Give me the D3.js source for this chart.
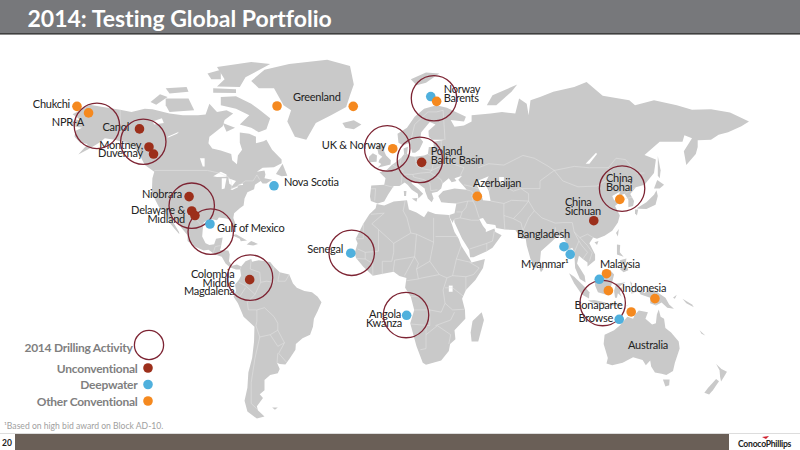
<!DOCTYPE html>
<html>
<head>
<meta charset="utf-8">
<script src="https://d3js.org/d3.v7.min.js"></script>
<style>
  html, body { margin: 0; padding: 0; background: #fff; }
  svg { display: block; }
  text { font-family: Lato, "Open Sans", sans-serif; font-variant-ligatures: none; }
  .label { font-size: 11px; letter-spacing: -0.25px; fill: #222; }
  .legend { font-size: 12px; letter-spacing: -0.25px; font-weight: 700; fill: #7f7f7f; }
</style>
</head>
<body>
<div id="chart"></div>
<script>
// Drilling sites
var siteNames = ["Chukchi", "NPR-A", "Canol", "Montney", "Duvernay", "Niobrara", "Delaware", "Midland", "Gulf of Mexico",
  "Nova Scotia", "Greenland W", "Greenland E", "UK & Norway", "Norway", "Barents", "Poland", "Azerbaijan", "Bohai", "Sichuan",
  "Bangladesh", "Myanmar", "Malaysia O", "Malaysia D", "Kalimantan", "Indonesia", "Bonaparte", "Browse", "Senegal", "Angola", "Colombia"];
var siteLons = [-163.7, -157.6, -130.8, -125.8, -123.4, -104.7, -103.3, -101.6, -93.7,
  -60, -58.4, -18.3, 2.5, 22.5, 25.6, 17.7, 47, 122, 108.3,
  92.6, 95.9, 115, 111.2, 116, 140.5, 128, 121.7, -19.6, 9.8, -72.8];
var siteLats = [70.7, 68.7, 63.6, 57.5, 55, 38.8, 32.9, 31, 27.4,
  43.1, 70.8, 70.7, 56.9, 73.6, 72.2, 52, 38.9, 37.7, 28.8,
  17.5, 14.1, 5.4, 2.85, -2.3, -5.9, -11.9, -15.2, 14.6, -13.4, 2.7];
var siteTypes = ["o", "o", "u", "u", "u", "u", "u", "u", "d",
  "d", "o", "o", "o", "d", "o", "u", "o", "o", "u",
  "d", "d", "o", "d", "o", "o", "o", "d", "d", "d", "u"];

// 2014 drilling activity rings
var ringLons = [-153.2, -128.8, -103.3, -93.3, -72.6, -19.1, 9.5, 113, -0.4, 16.8, 24.2, 123.2];
var ringLats = [64.6, 59.3, 35.1, 24.1, 3.6, 14.8, -13.3, -7.9, 57, 52.9, 73.1, 42];

var legendNames = ["Unconventional", "Deepwater", "Other Conventional"];
var legendTypes = ["u", "d", "o"];

// Land, lon/lat outlines
var northAmerica = [[-168,65.6],[-164,66.6],[-162,66.2],[-163,67],[-166,68.3],[-163,69.2],[-157,71.2],[-150,70.5],[-141,69.7],[-135,69],[-128,70],[-124,69.8],[-115,68.5],[-108,68],[-100,68],[-96,68.2],[-94,71.5],[-90,69],[-85,69.5],[-81.5,68.5],[-86,66.5],[-87,64.5],[-94,61],[-94.5,58.8],[-92.5,57],[-88,56.3],[-82.5,55],[-82,52.8],[-79.5,51.3],[-79,54.5],[-76.8,56.5],[-78,59],[-78,62.4],[-73,62],[-69.5,61],[-69.5,58.8],[-65.5,59.5],[-64,60],[-61,56.5],[-56,53],[-56,51.7],[-60,50.2],[-66,50],[-69,48.5],[-65,49],[-64.5,47.5],[-65,46],[-61,45.5],[-64,44],[-66,44],[-67,45],[-70,43.5],[-70.5,41.7],[-74,40.5],[-75.5,38],[-76,35.2],[-78,34],[-81,32],[-81.4,30],[-80,26.8],[-80.5,25.2],[-82,27],[-83,29],[-85,29.7],[-89,30.2],[-90,29],[-94,29.6],[-97,28],[-97.5,25],[-97.8,22],[-96,19],[-94,18.2],[-91.5,18.6],[-90.5,21],[-87,21.5],[-88,17],[-88.5,15.9],[-84,15.8],[-83.3,14],[-83.7,11],[-82,9],[-79.5,9.5],[-77.3,8.6],[-77.8,7.3],[-80,7.3],[-83,8.2],[-85.5,10],[-87.5,13],[-91,14],[-94.5,16.2],[-97,15.8],[-101.5,17.5],[-105.5,20],[-105.5,22.5],[-109,26],[-112.5,30],[-114.7,31.7],[-113,28],[-110,24],[-109.8,23],[-112,25],[-115,28],[-117,32.5],[-120.5,34.5],[-122.5,37.5],[-124.3,40.5],[-124,46],[-123,48.5],[-128,51],[-130.5,54.5],[-133.5,57.5],[-138,59],[-144,60],[-149,60.5],[-152,59],[-157,57],[-163,54.8],[-158,58.5],[-162,59],[-165,61],[-164.5,63],[-161,64],[-166,64.5]];
var southAmerica = [[-77.3,8.6],[-75,11],[-72,12],[-71.5,10.8],[-68,11.5],[-62,10.7],[-60,8.5],[-57,6],[-52,5],[-50,1],[-48,-1],[-44,-2.5],[-40,-3],[-37,-5],[-35,-7.5],[-37,-11.5],[-39,-15],[-39.5,-18.5],[-41,-22],[-45,-23.5],[-48.5,-26],[-48.7,-28.5],[-52,-32.5],[-54,-34.7],[-57,-34.5],[-58.4,-34],[-57,-36.5],[-58,-38.3],[-62,-39],[-65,-41],[-65,-45],[-67.5,-46.5],[-65.8,-48],[-69,-51],[-68.5,-52.5],[-65,-54.8],[-69,-55.5],[-74,-53],[-75.5,-49],[-74,-44],[-73.5,-38],[-71.5,-32],[-70.5,-25],[-70.3,-18.5],[-76,-14],[-79,-8],[-81.3,-5],[-80,-2.5],[-80.5,0.5],[-78.5,2.5],[-77.3,4.5],[-77.8,7.3]];
var africa = [[-6,35.8],[-2,35.2],[3,36.8],[10,37.3],[11,33.5],[15,32.3],[19,30.3],[21,32.8],[25,31.6],[32,31.2],[32.5,30],[35,24],[37.2,21],[38.5,18],[43,12],[44,10.5],[51,12],[50,8],[46,2.5],[41,-2],[39,-6],[40.5,-11],[40.7,-15],[35,-20],[35.5,-24],[32.7,-26],[32,-29],[28,-33],[20,-34.8],[18.3,-34],[15,-27],[11.7,-17],[13.8,-11],[12,-5],[9,-1],[9.7,3.5],[6,4.3],[3,6.3],[-4,5.2],[-8,4.5],[-13,8.5],[-16.8,12.5],[-17.5,14.7],[-16,19],[-17,21],[-13,27.5],[-9.8,31.5],[-6.5,34]];
var eurasia = [[-9,37],[-9.5,38.8],[-8.8,43.2],[-2,43.5],[-1.3,46],[-4.5,48.3],[-1.5,48.7],[2,51],[4,52],[7,53.7],[8.5,55],[8.2,57],[10.5,57.6],[10,55],[12,54.2],[14,54],[19,54.5],[21,55],[21.5,57.5],[24,57.5],[24,59.3],[30,60],[23,60],[21.5,61],[21.3,63],[25,65],[22,65.8],[17.5,62.5],[17,60.5],[18.5,59.3],[16.5,56.5],[14.3,55.5],[12.8,55.5],[11.2,59],[8,58],[5.5,59],[5,62],[10,64],[14,67.5],[19,70],[25.5,71],[31,70.3],[41,67.5],[40,66],[33,66.5],[35,64.3],[40,64.7],[44,66],[44,68],[54,68.5],[60,69],[67,68.5],[69,73],[73,71.5],[74,68],[75,72.5],[80,73.5],[87,75],[98,76.3],[104.5,77.7],[113,73.8],[127,72.5],[130,71],[140,72.5],[152,71],[160,69.7],[170,69.8],[180,68.8],[190,66],[186,64.5],[179,62.5],[174,61.7],[170,60],[163,59.8],[163,57.5],[162,55],[157,51],[155.7,56],[160,60.5],[156,61.5],[155,59.3],[143,59.3],[135,54.7],[141,53],[140,48],[135,43.5],[130.5,42.5],[127.5,39.8],[129.5,37],[129,35],[126.5,34.5],[126.5,37.5],[124.5,40],[121.5,39],[122,40.7],[118,39],[119,37.3],[122.5,37],[119.5,35],[122,31],[121,28],[118,24.5],[114,22.3],[110,21],[108,21.5],[106,19],[109,14],[109,11.5],[105,8.7],[105,10.5],[102.5,12],[100.5,13.5],[99.5,10],[103.5,4.5],[104,1.4],[101,3],[98.5,8],[98,15],[97,17],[94.5,16],[94,19],[91.5,22.5],[88.5,21.7],[86.5,20],[80.5,15.5],[80,11],[77.5,8],[75,12],[73,18],[72.5,21],[70,21],[69,22.5],[67,24.8],[61.5,25],[57,25.7],[56.5,27],[52,27.5],[50,30],[48,29.5],[50,26.5],[51.5,25],[51.5,24],[56,25.5],[56.5,24],[59.8,22.5],[55,17],[52,15.5],[45,12.8],[43.2,12.8],[42.7,16],[39,21],[35,28],[34.8,29.5],[34,27.8],[33,29.5],[32.5,30],[32.3,31.2],[35,32],[36,36],[32,36.2],[28,36.5],[26.5,39],[29,41],[35,42],[41.5,41.5],[38,44.5],[37,45.5],[39,47],[35,46],[36,45],[33.5,44.5],[32,46],[28.7,44],[28,42],[26,40.7],[23,40.3],[24,38],[23,36.5],[21,38],[19.5,41],[19.3,42],[14,45],[12.3,45.3],[12.5,44],[16,41.8],[18.5,40],[16,38],[15.7,40],[12.5,41.5],[10.3,43.5],[8.8,44.4],[6,43],[3,43],[0,39.5],[-2,36.8],[-5.5,36]];
var greenland = [[-72,78],[-65,81],[-52,82.5],[-32,83.6],[-20,82],[-18,77],[-20,74],[-22,70.5],[-30,68],[-38,65.5],[-43,60],[-49,61],[-53,66],[-51,69.5],[-55,71],[-60,76],[-68,76]];
var australia = [[114,-22],[113.5,-26],[115.7,-32],[115,-34.3],[118,-35],[123.5,-34],[129,-31.7],[134,-32.8],[135.7,-35],[138,-33],[138.5,-35.5],[140.5,-38],[144,-38.5],[146.5,-39],[150,-37.3],[151,-34],[153.5,-28],[153,-25],[149,-21],[146,-19],[145.3,-15],[143.5,-14],[142.5,-10.8],[141.5,-13],[141,-17],[139,-17.5],[135.5,-15],[136.8,-12],[132,-11.3],[130,-13],[129,-15],[126,-14],[122,-18],[119,-20]];
var islands = [
  [[-80,73.7],[-72,71.5],[-68,69.8],[-62,67],[-64,63.5],[-68,62.5],[-72,64],[-78,65],[-73,68],[-80,70],[-88,71],[-88,73.5]],
  [[-117,73],[-105,73],[-102,69.5],[-115,69],[-117,71]],
  [[-125,72],[-120,74.3],[-116,73.5],[-122,71.2]],
  [[-90,76.5],[-78,76.3],[-75,79],[-62,82.5],[-72,83],[-90,81.7],[-86,78.5]],
  [[-92,76],[-80,75.7],[-80,74.6],[-92,74.7]],
  [[-117,76],[-106,76.3],[-105,75],[-115,74.5]],
  [[-95,80],[-88,81],[-88,78.5],[-93,78.5]],
  [[-87,65.5],[-80.5,64],[-85,62.7]],
  [[-59,47.7],[-55.5,51.5],[-53,47],[-56,46.8]],
  [[-85,22],[-80,23],[-74.2,20.2],[-77.5,19.9],[-78,21],[-82,22.5]],
  [[-74.4,18.5],[-72,20],[-68.4,18.7],[-71,18]],
  [[-24,65.5],[-18,66.4],[-14,65],[-18,63.5],[-22.5,64]],
  [[12,78.5],[20,80.3],[27,80],[20,77.5],[15,76.8]],
  [[-5.5,50],[1.3,51.2],[1.5,52.8],[-1,54.5],[-2,56],[-2,57.6],[-3.5,58.6],[-6,58],[-5,55],[-3,54],[-4.5,53],[-5,52],[-3.5,51.4]],
  [[-10,52],[-6,52.2],[-5.8,54.5],[-8,55.3],[-10,54]],
  [[52,71],[55,74],[68,77],[65,75],[57,71]],
  [[12.5,38],[15.5,38.2],[15,36.7]],
  [[8.3,41],[9.7,41],[9.5,39],[8.5,39]],
  [[142,54.3],[143.5,49],[143,46],[142,47],[142,51]],
  [[140,42],[141.7,45.4],[145.3,43.5],[143,42]],
  [[130.9,34],[136,36.5],[140,39.5],[141.3,41.3],[142,39],[140.8,35.5],[136,33.7],[132,33.8]],
  [[130,33.5],[131.7,33.5],[131,31],[130,32]],
  [[121.5,25.2],[121,22],[120,23.5]],
  [[108.7,19.5],[110.8,20],[110,18.2]],
  [[120.5,18.5],[122.2,18.3],[122,15],[124,13],[120.5,14]],
  [[122,7.5],[125.5,9.7],[126.5,7],[124,6]],
  [[122,11.5],[125.5,12.2],[125,10],[123,9.5]],
  [[80,9.7],[81.8,7.5],[80.5,6],[79.8,7.5]],
  [[95.3,5.6],[98,4],[104,-1],[106,-3],[105.8,-5.8],[102,-4],[98,1]],
  [[105.2,-6.8],[108.5,-6.5],[114.5,-7.6],[114.5,-8.7],[108,-7.9]],
  [[109,1.5],[111.5,2.5],[114,4.5],[117,7],[119,5],[117.8,1],[116.5,-3],[114.5,-4],[110.5,-3],[109,0]],
  [[119.5,-5.5],[119,-2.5],[120,0.8],[125,1.5],[121,-0.9],[123.5,-1],[122,-3],[123,-5],[121,-3.5],[120.5,-5.5]],
  [[131,-0.8],[135,-3.3],[138,-1.7],[141,-2.6],[146,-5.5],[148,-8.5],[150.5,-10.5],[147,-10],[144,-7.7],[141,-9],[138,-8],[138,-5.5],[133,-4],[132,-2.7]],
  [[116,-8.3],[119,-8.3],[123,-8.3],[123,-8.9],[116,-9]],
  [[124,-10],[127,-8.4],[125,-9.2]],
  [[128,-3],[130.5,-3.2],[128,-3.6]],
  [[127.5,2],[128.5,1],[128,-0.8]],
  [[49.3,-12],[50.5,-15.5],[47.5,-25],[44,-25],[43.5,-21],[44.5,-16]],
  [[144.7,-40.8],[148.2,-40.8],[148,-43],[146,-43.5]],
  [[172.7,-34.5],[175.5,-36.5],[178.4,-37.7],[177,-39.5],[175.3,-41.6],[174.8,-39.8],[174.5,-37]],
  [[172.7,-40.6],[174.2,-41.5],[171,-45],[169,-46.6],[166.5,-46],[168.5,-44]],
  [[164,-20],[167,-22.3],[165,-21.6]],
  [[-61,-51.5],[-58,-51.5],[-59.5,-52.3]],
  [[155,-6],[160,-8.5],[161,-9.8],[157,-8]],
  [[150,-5.5],[152,-4.2],[151,-6]]
];
// lakes and inland seas, same outlines in white
var lakes = [
  [[47,45],[53,46.8],[51,44],[53,41],[54,37],[50,37.3],[49,40],[47,43]],
  [[-92,46.8],[-88,48.5],[-85,47.5],[-85,46.6],[-90,46.5]],
  [[-87.5,46],[-85,46],[-86,42],[-87.5,41.7]],
  [[-84,46],[-80,45],[-82,43],[-83.5,44]],
  [[-83,41.7],[-79,42.9],[-79,42.5],[-82,41.4]],
  [[-79.5,43.3],[-76.3,44],[-76.3,43.4]],
  [[-124,66],[-119,67],[-118,65.5],[-123,65]],
  [[-116,61],[-110,62.7],[-111,62],[-116,60.7]],
  [[-99,53.5],[-96.5,53.5],[-96.5,50.5],[-97.5,50.5]],
  [[104,51.5],[109.5,55.5],[110,55],[106,51.5]],
  [[32,0],[34,0],[34,-2.8],[32,-2.8]],
  [[58.5,46.5],[61,46.5],[61,44],[58.5,44]]
];
// Country borders
var borders = [
  [[-123,49],[-95,49],[-89,48],[-84,46.5],[-82.5,45],[-82.5,42],[-79,43],[-75,45],[-71,45],[-69,47.3],[-67.5,45.5]],
  [[-141,69.7],[-141,60],[-137,59],[-130,55]],
  [[-117,32.5],[-108,31.5],[-106,31.7],[-101,29.5],[-97.3,25.9]],
  [[-92,14.5],[-91,17.5],[-89,17.9],[-88,17.9]],
  [[-72,12],[-72.5,7.5],[-67.5,6],[-67,1.5],[-70,-4],[-74,-7.5],[-73.5,-11],[-69,-11],[-69,-16],[-69.5,-18]],
  [[-60,8.5],[-61,5],[-60,1.5],[-64,2],[-67,1.5]],
  [[-57,6],[-58,2],[-54,2],[-52,5]],
  [[-78.5,1.5],[-75,0],[-70,-4]],
  [[-80,-3.5],[-78,-5],[-75,-1]],
  [[-69,-11],[-65,-10],[-60,-14],[-58,-17],[-58,-20],[-54.5,-25.5],[-57.5,-30],[-53.5,-33.7]],
  [[-69.5,-18],[-67.5,-23],[-62,-22],[-58,-20]],
  [[-67.5,-23],[-70,-32],[-72,-42],[-72,-50],[-69,-52]],
  [[-62,-22],[-58,-27],[-54.5,-25.5]],
  [[-58,-30],[-58.4,-34]],
  [[-9,41.9],[-6.5,42],[-7,37.2]],
  [[-1.8,43.4],[3,42.5]],
  [[2.5,51],[6,49.5],[8,49],[7.5,47.6],[7,44]],
  [[7,53.7],[6,50.5]],
  [[9,55],[9,54.6]],
  [[14.2,54],[15,51],[18,49.7],[23,49],[24,52],[23.5,54],[21,55]],
  [[7.5,47.6],[13,47.5],[17,48],[22,48.3],[23,49]],
  [[13,47.5],[13.5,46.5],[16,46],[19,45.5],[22,44.2],[22.5,41.2],[26,41.5]],
  [[22,48.3],[28,45.5],[28.7,44]],
  [[23,49],[32,52],[40,50],[38,47]],
  [[28,56],[23.5,54],[32,52]],
  [[28,56],[28,60]],
  [[30,60],[29.5,65],[29,69.5],[25.5,69],[21,69]],
  [[21,69],[14,65],[12.5,61],[11.5,59]],
  [[40,43.5],[44,42.8],[48,41.8]],
  [[41.5,41.5],[44,41],[45,39.5],[48.8,38.5]],
  [[44,39.5],[44.8,37],[46,35],[48,30]],
  [[36,36],[42,37],[44.8,37]],
  [[36,32.5],[39,32.5],[41,34.3],[42,37]],
  [[35,29.5],[38,30],[39,32.5]],
  [[38,30],[44,29],[48,29]],
  [[43,16.5],[52,19],[55,20],[56,24.5]],
  [[52,15.5],[52,19]],
  [[53,41],[56,45],[61,43],[66,41],[70,42],[74,40],[74,37]],
  [[54,37],[61,36],[65,37.3],[74,37]],
  [[61,36],[61,31],[61.5,25]],
  [[61,31],[66,29.7],[70,33],[74,37]],
  [[66,29.7],[70,28],[71,24.5],[69,22.5]],
  [[74,37],[77,33],[74,30],[71,24.5]],
  [[47.5,50],[53,51.5],[61,51],[71,54.5],[77,53.5],[84,50.7],[87.5,49]],
  [[87.5,49],[98,50.5],[106,50],[116,50],[120,53.5],[125,53],[131,48],[135,48]],
  [[70,42],[80,42],[80,45],[87.5,49]],
  [[87.5,49],[92,45],[100,42.7],[110,43],[119,47],[116,50]],
  [[77,33],[81,30],[88,27.8],[92,28],[97,28]],
  [[97,28],[98,24],[101,21.5],[105,23],[108,21.5]],
  [[88,26],[88.5,21.7]],
  [[92,25],[92.5,21]],
  [[98,24],[100.5,20],[98,15]],
  [[101,21.5],[105,18],[107.5,15],[106,11]],
  [[100.5,20],[102,18],[105,15],[102.5,12]],
  [[125,40.2],[130.5,42.5]],
  [[124.5,38],[128.5,38.5]],
  [[-17,21],[-13,21],[-13,27.5]],
  [[-8.5,27.5],[-5,25],[3,19],[12,23.5],[15,23],[24,19.5],[24,30]],
  [[-9,31.5],[-2,32],[-8.5,27.5]],
  [[9,37],[8,33],[10,30],[12,23.5]],
  [[-16,16.5],[-12,15],[-5,15.5],[-5,25]],
  [[-12,15],[-12,12],[-8,10],[-8,4.5]],
  [[-16.7,12.3],[-12,12]],
  [[-3,5],[-3,11],[2,11],[3,15],[3,19]],
  [[2.7,6.3],[3.5,11.5],[14,13],[15,23]],
  [[8.7,4.5],[14,13]],
  [[14,13],[16,10],[15,7.5],[16,3],[9.7,2.2]],
  [[15,7.5],[22,11],[24,19.5]],
  [[22,11],[27,5],[31,3.5],[34,4.5],[36,12],[38.5,18]],
  [[25,22],[37,22]],
  [[27,5],[18,3.5],[16,3]],
  [[12,-5],[17,-5],[22,-11],[28,-12],[30,-8],[29,-2],[31,3.5]],
  [[13.8,-11],[22,-11],[22,-18],[12,-17.3]],
  [[20,-18],[20,-28],[17,-28.5]],
  [[30,-1],[34,-1],[39.5,-4.7]],
  [[34,4.5],[41,4],[41,-2]],
  [[36,12],[41,11],[44,10.5]],
  [[41,4],[45,5],[48,8],[43,10.5]],
  [[30,-8],[34,-11],[40,-10.7]],
  [[25,-18],[33,-15.5],[35,-12]],
  [[20,-22],[26,-18],[33,-22],[32,-26]],
  [[141,-2.6],[141,-9]],
  [[115,2],[117.5,4.2]]
];

var typeColors = { u: "#9c2f1b", d: "#4fb0dd", o: "#f5891f" };
var ringColor = "#7d2433";
var landColor = "#c9c9c9";

var svgWidth = 800;
var svgHeight = 450;

var svg = d3.select("#chart")
  .append("svg")
  .attr("width", svgWidth)
  .attr("height", svgHeight);

// Map is a Gall style cylinder: x is linear in lon, y is linear in tan(lat / 2)
var xLon = d3.scaleLinear().domain([-180, 180]).range([388 - 342, 388 + 342]);
var yTan = d3.scaleLinear().domain([-1, 1]).range([285.6 + 252.7, 285.6 - 252.7]);
var px = p => xLon(p[0]);
var py = p => yTan(Math.tan(p[1] * Math.PI / 360));

var outline = d3.line().x(px).y(py).curve(d3.curveLinearClosed);
var openLine = d3.line().x(px).y(py);

// Header band
svg.append("rect").attr("width", svgWidth).attr("height", 33).attr("fill", "#77787b");
svg.append("rect").attr("y", 33).attr("width", svgWidth).attr("height", 1.6).attr("fill", "#3f3f3f");
svg.append("text")
  .attr("x", 27.5)
  .attr("y", 27)
  .attr("font-size", 23)
  .attr("font-weight", 700)
  .attr("fill", "#fff")
  .text("2014: Testing Global Portfolio");

// Land
var land = [northAmerica, southAmerica, africa, eurasia, greenland, australia].concat(islands);
var mapGroup = svg.append("g");
mapGroup.selectAll("path.land")
  .data(land)
  .enter()
  .append("path")
  .attr("class", "land")
  .attr("d", outline)
  .attr("fill", landColor);

mapGroup.selectAll("path.lake")
  .data(lakes)
  .enter()
  .append("path")
  .attr("class", "lake")
  .attr("d", outline)
  .attr("fill", "#fff");

mapGroup.selectAll("path.border")
  .data(borders)
  .enter()
  .append("path")
  .attr("class", "border")
  .attr("d", openLine)
  .attr("fill", "none")
  .attr("stroke", "#e6e6e6")
  .attr("stroke-width", 0.5);

// Site labels
function label(txt, x, y, anchor) {
  return svg.append("text")
    .attr("class", "label")
    .attr("x", x)
    .attr("y", y)
    .attr("text-anchor", anchor || "start")
    .text(txt);
}
label("Chukchi", 70, 108, "end");
label("NPR-A", 84, 126, "end");
label("Canol", 129, 131, "end");
label("Montney,", 143, 148.5, "end");
label("Duvernay", 143, 157, "end");
label("Niobrara", 182, 198, "end");
label("Delaware &", 185, 214, "end");
label("Midland", 185, 222.5, "end");
label("Gulf of Mexico", 217, 232);
label("Nova Scotia", 284, 186);
label("Greenland", 293, 101);
label("UK & Norway", 386, 149, "end");
label("Norway", 443.7, 93);
label("Barents", 443.7, 102);
label("Poland", 430.7, 155);
label("Baltic Basin", 430.7, 164);
label("Azerbaijan", 473, 187);
label("China", 606, 182);
label("Bohai", 606, 191);
label("China", 565, 206);
label("Sichuan", 565, 214.5);
label("Bangladesh", 517, 238);
label("Myanmar\u00B9", 568.5, 268, "end");
label("Malaysia", 600, 268);
label("Indonesia", 622, 292);
label("Bonaparte", 622.5, 309, "end");
label("Browse", 613, 322, "end");
label("Australia", 628, 349);
label("Senegal", 343, 253, "end");
label("Angola", 369, 318);
label("Kwanza", 366, 327);
label("Colombia", 234.5, 278, "end");
label("Middle", 234.5, 286.5, "end");
label("Magdalena", 234.5, 295, "end");

// Activity rings
svg.selectAll("circle.ring")
  .data(d3.zip(ringLons, ringLats))
  .enter()
  .append("circle")
  .attr("class", "ring")
  .attr("cx", px)
  .attr("cy", py)
  .attr("r", 22.7)
  .attr("fill", "none")
  .attr("stroke", ringColor)
  .attr("stroke-width", 1.3);

// Site dots
svg.selectAll("circle.site")
  .data(d3.zip(siteLons, siteLats, siteTypes, siteNames))
  .enter()
  .append("circle")
  .attr("class", "site")
  .attr("cx", px)
  .attr("cy", py)
  .attr("r", 4.8)
  .attr("fill", d => typeColors[d[2]]);

// Legend
svg.append("text").attr("class", "legend").attr("x", 132.5).attr("y", 352).attr("text-anchor", "end").text("2014 Drilling Activity");
svg.append("circle").attr("cx", 149).attr("cy", 345).attr("r", 14.6).attr("fill", "none").attr("stroke", ringColor).attr("stroke-width", 1.3);
var legendY = d3.scalePoint().domain(legendNames).range([368, 401]);
svg.selectAll("text.item")
  .data(legendNames)
  .enter()
  .append("text")
  .attr("class", "legend")
  .attr("x", 137.5)
  .attr("y", d => legendY(d) + 4.5)
  .attr("text-anchor", "end")
  .text(d => d);
svg.selectAll("circle.item")
  .data(legendNames)
  .enter()
  .append("circle")
  .attr("cx", 148)
  .attr("cy", d => legendY(d))
  .attr("r", 4.8)
  .attr("fill", (d, i) => typeColors[legendTypes[i]]);

// Footnote and footer
svg.append("text")
  .attr("x", 4)
  .attr("y", 429)
  .attr("font-size", 8.6)
  .attr("fill", "#a0a0a0")
  .text("\u00B9Based on high bid award on Block AD-10.");
svg.append("rect").attr("x", 15).attr("y", 434).attr("width", 714).attr("height", 16).attr("fill", "#6a5f57");
svg.append("rect").attr("y", 433).attr("width", svgWidth).attr("height", 1).attr("fill", "#dddddd");
svg.append("text")
  .attr("x", 7)
  .attr("y", 446)
  .attr("text-anchor", "middle")
  .attr("font-size", 8.5)
  .attr("font-weight", 700)
  .attr("fill", "#222")
  .text("20");
svg.append("text")
  .attr("x", 738)
  .attr("y", 446.5)
  .attr("font-size", 8.6)
  .attr("font-weight", 700)
  .attr("letter-spacing", -0.25)
  .attr("fill", "#222")
  .text("ConocoPhillips");
svg.append("path").attr("d", "M762 437 L769 436 L766 439 Z").attr("fill", "#d0202e");
</script>
</body>
</html>
